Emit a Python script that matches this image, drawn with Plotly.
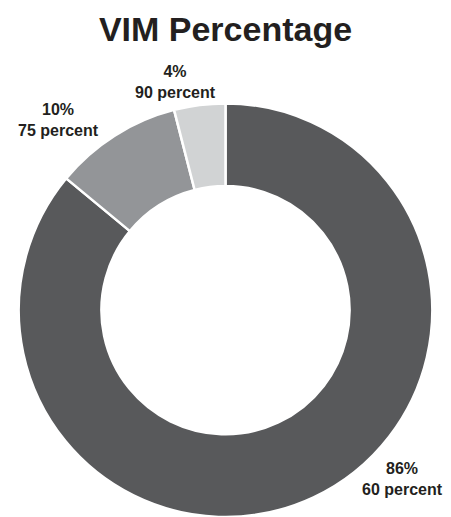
import plotly.graph_objects as go

categories = ["60 percent", "75 percent", "90 percent"]
values = [86, 10, 4]
colors = ["#58595b", "#939598", "#d1d3d4"]
title_text = "VIM Percentage"

W, H = 451, 517
FONT = "Liberation Sans, Arial, sans-serif"

fig = go.Figure(go.Pie(
    labels=categories,
    values=values,
    sort=False,
    direction="clockwise",
    rotation=0,
    hole=0.6,
    textinfo="none",
    hoverinfo="none",
    marker=dict(colors=colors, line=dict(color="white", width=2.5)),
    domain=dict(x=[0.0, 1.0], y=[0.0, 0.8]),
    showlegend=False,
))

# label block centres (pixels)
label_pos = [(402.5, 479), (58.5, 120), (175, 82.5)]
for (px, py), c, v in zip(label_pos, categories, values):
    fig.add_annotation(
        x=px / W, y=1 - py / H, xref="paper", yref="paper",
        text=f"{v}%<br>{c}", showarrow=False,
        xanchor="center", yanchor="middle", align="center",
        font=dict(family=FONT, size=16, color="#231f20", weight="bold"),
    )

fig.update_layout(
    width=W, height=H,
    margin=dict(l=0, r=0, t=0, b=0),
    paper_bgcolor="white", plot_bgcolor="white",
    title=dict(
        text=title_text, x=0.5, xanchor="center",
        y=1 - 29 / H, yanchor="middle", yref="container",
        font=dict(family=FONT, size=34, color="#231f20", weight="bold"),
    ),
)

fig.write_html("out.html")
